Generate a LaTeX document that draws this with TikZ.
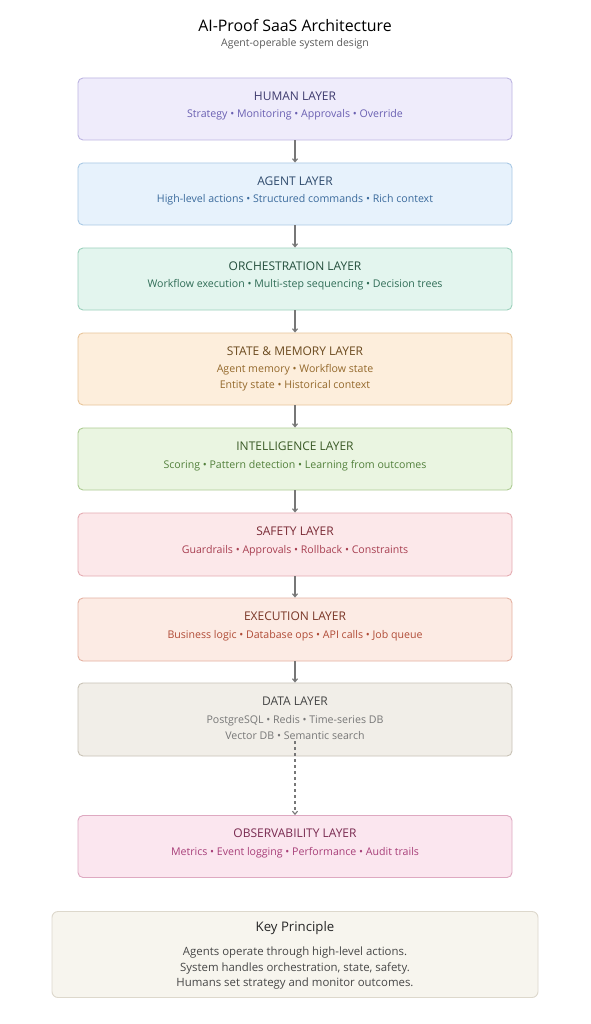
\documentclass[tikz,border=0pt]{standalone}
\usepackage{fontspec}
\setmainfont{Open Sans}
\usetikzlibrary{arrows.meta}

\definecolor{humanfill}{HTML}{EFECFB}
\definecolor{humanline}{HTML}{BDB5E2}
\definecolor{humantitle}{HTML}{3E3B6E}
\definecolor{humantext}{HTML}{6A60B2}
\definecolor{agentfill}{HTML}{E7F2FC}
\definecolor{agentline}{HTML}{A9C9E5}
\definecolor{agenttitle}{HTML}{2E4A6C}
\definecolor{agenttext}{HTML}{3A6A9C}
\definecolor{orchfill}{HTML}{E3F5EE}
\definecolor{orchline}{HTML}{9BD1BC}
\definecolor{orchtitle}{HTML}{244F3D}
\definecolor{orchtext}{HTML}{2F6C56}
\definecolor{statefill}{HTML}{FDEEDC}
\definecolor{stateline}{HTML}{E8C59A}
\definecolor{statetitle}{HTML}{6B4A1F}
\definecolor{statetext}{HTML}{94692C}
\definecolor{intelfill}{HTML}{EAF5E1}
\definecolor{intelline}{HTML}{ADCC93}
\definecolor{inteltitle}{HTML}{3A5A26}
\definecolor{inteltext}{HTML}{52803B}
\definecolor{safefill}{HTML}{FCE8EA}
\definecolor{safeline}{HTML}{E5ACB2}
\definecolor{safetitle}{HTML}{7A2B36}
\definecolor{safetext}{HTML}{A83F51}
\definecolor{execfill}{HTML}{FCEBE4}
\definecolor{execline}{HTML}{E5B2A2}
\definecolor{exectitle}{HTML}{7A3626}
\definecolor{exectext}{HTML}{B04B36}
\definecolor{datafill}{HTML}{F1EEE8}
\definecolor{dataline}{HTML}{C9C3B6}
\definecolor{datatitle}{HTML}{444444}
\definecolor{datatext}{HTML}{777777}
\definecolor{obsfill}{HTML}{FBE6EF}
\definecolor{obsline}{HTML}{DEA9C1}
\definecolor{obstitle}{HTML}{7A2B51}
\definecolor{obstext}{HTML}{A83F79}
\definecolor{keyfill}{HTML}{F7F5EE}
\definecolor{keyline}{HTML}{DDD8CC}
\definecolor{arrowgray}{HTML}{777777}

\tikzset{
    layerbox/.style={draw=#1line, fill=#1fill, rounded corners=5pt, line width=0.9pt,
        minimum width=434pt, inner sep=0pt},
    layertitle/.style={text=#1title, font=\fontsize{12}{14}\selectfont, inner sep=1pt},
    layertext/.style={text=#1text, font=\fontsize{10.6}{12}\selectfont, inner sep=1pt, yshift=-1.5pt},
    flow/.style={draw=arrowgray, line width=1.1pt, -{Straight Barb[length=3pt,width=5pt]}},
}

\begin{document}
\begin{tikzpicture}[x=1pt, y=-1pt]
    \useasboundingbox[fill=white] (0, 0) rectangle (590, 1024);

    \node (title) at (295, 25) {\fontsize{15.9}{18}\selectfont AI-Proof SaaS Architecture};
    \node[text=black!65] (subtitle) at (295, 44) {\fontsize{10.5}{12}\selectfont Agent-operable system design};

    % layers
    \node[layerbox=human, minimum height=62pt] (human) at (295, 109) {};
    \node[layertitle=human] at (295, 96) {HUMAN LAYER};
    \node[layertext=human] at (295, 113) {Strategy • Monitoring • Approvals • Override};

    \node[layerbox=agent, minimum height=62pt] (agent) at (295, 194) {};
    \node[layertitle=agent] at (295, 181) {AGENT LAYER};
    \node[layertext=agent] at (295, 198) {High-level actions • Structured commands • Rich context};

    \node[layerbox=orch, minimum height=62pt] (orch) at (295, 279) {};
    \node[layertitle=orch] at (295, 266) {ORCHESTRATION LAYER};
    \node[layertext=orch] at (295, 283) {Workflow execution • Multi-step sequencing • Decision trees};

    \node[layerbox=state, minimum height=72pt] (state) at (295, 369) {};
    \node[layertitle=state] at (295, 351) {STATE \& MEMORY LAYER};
    \node[layertext=state] at (295, 368.5) {Agent memory • Workflow state};
    \node[layertext=state] at (295, 384) {Entity state • Historical context};

    \node[layerbox=intel, minimum height=62pt] (intel) at (295, 459) {};
    \node[layertitle=intel] at (295, 446) {INTELLIGENCE LAYER};
    \node[layertext=intel] at (295, 464) {Scoring • Pattern detection • Learning from outcomes};

    \node[layerbox=safe, minimum height=63pt] (safe) at (295, 544.5) {};
    \node[layertitle=safe] at (295, 531) {SAFETY LAYER};
    \node[layertext=safe] at (295, 549) {Guardrails • Approvals • Rollback • Constraints};

    \node[layerbox=exec, minimum height=63pt] (exec) at (295, 629.5) {};
    \node[layertitle=exec] at (295, 616) {EXECUTION LAYER};
    \node[layertext=exec] at (295, 634) {Business logic • Database ops • API calls • Job queue};

    \node[layerbox=data, minimum height=73pt] (data) at (295, 719.5) {};
    \node[layertitle=data] at (295, 701.5) {DATA LAYER};
    \node[layertext=data] at (295, 719) {PostgreSQL • Redis • Time-series DB};
    \node[layertext=data] (datalast) at (295, 734.5) {Vector DB • Semantic search};

    \node[layerbox=obs, minimum height=62pt] (obs) at (295, 846.5) {};
    \node[layertitle=obs] at (295, 833) {OBSERVABILITY LAYER};
    \node[layertext=obs] at (295, 851) {Metrics • Event logging • Performance • Audit trails};

    % arrows
    \draw[flow] (human) -- (agent);
    \draw[flow] (agent) -- (orch);
    \draw[flow] (orch) -- (state);
    \draw[flow] (state) -- (intel);
    \draw[flow] (intel) -- (safe);
    \draw[flow] (safe) -- (exec);
    \draw[flow] (exec) -- (data);
    \draw[flow, dashed, dash pattern=on 3pt off 3pt] (datalast.south) -- (obs.north);

    % key principle
    \node[draw=keyline, fill=keyfill, rounded corners=6pt, line width=0.9pt,
        minimum width=486pt, minimum height=86pt] (key) at (295, 954.5) {};
    \node[text=black!85] (keytitle) at (295, 928.5) {\fontsize{13.2}{15}\selectfont Key Principle};
    \node[text=black!72, align=center, font=\fontsize{11.4}{15.5}\selectfont] (keytext) at (295, 968.5)
        {Agents operate through high-level actions.\\
         System handles orchestration, state, safety.\\
         Humans set strategy and monitor outcomes.};
\end{tikzpicture}
\end{document}
